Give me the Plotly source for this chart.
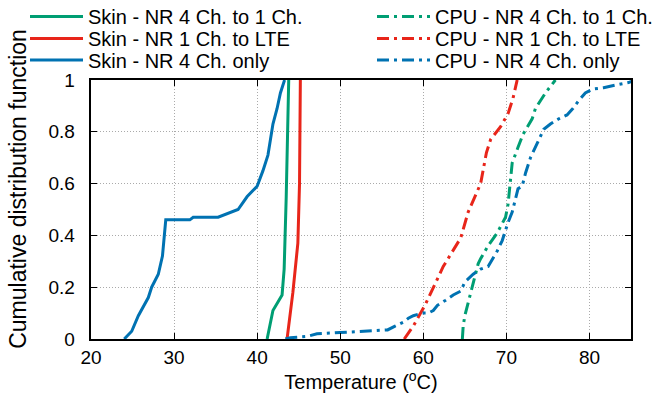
import plotly.graph_objects as go

# ---- data (temperature in deg C, CDF) ----
skin_4to1_T = [41.2, 41.9, 43.0, 43.25, 43.5, 43.6, 43.8]
skin_4to1_y = [0, 0.11, 0.17, 0.27, 0.55, 0.76, 1.0]

skin_1lte_T = [43.6, 44.3, 44.9, 45.1, 45.2]
skin_1lte_y = [0, 0.18, 0.37, 0.6, 1.0]

skin_4_T = [24.0, 24.9, 25.7, 26.9, 27.3, 28.1, 28.6, 28.9, 29.0, 31.9, 32.3, 35.3, 37.0,
            37.7, 38.8, 40.0, 40.7, 41.3, 41.9, 42.4, 42.8, 43.3]
skin_4_y = [0, 0.03, 0.09, 0.16, 0.20, 0.25, 0.32, 0.41, 0.46, 0.46, 0.47, 0.47, 0.49,
            0.50, 0.55, 0.59, 0.65, 0.71, 0.83, 0.89, 0.95, 1.0]

cpu_4to1_T = [64.7, 64.8, 65.0, 65.9, 66.6, 66.9, 67.8, 68.9, 69.9, 70.2, 70.4, 70.5, 70.7,
              71.4, 72.0, 73.1, 73.5, 74.7, 75.9]
cpu_4to1_y = [0, 0.05, 0.09, 0.20, 0.29, 0.31, 0.36, 0.41, 0.47, 0.52, 0.59, 0.63, 0.68,
              0.74, 0.79, 0.85, 0.89, 0.95, 1.0]

cpu_1lte_T = [57.7, 58.8, 60.2, 61.2, 62.4, 64.5, 65.4, 66.9, 67.6, 68.1, 69.3, 70.2, 70.8, 71.3]
cpu_1lte_y = [0, 0.05, 0.13, 0.20, 0.28, 0.39, 0.49, 0.60, 0.72, 0.77, 0.82, 0.87, 0.93, 1.0]

cpu_4_T = [43.4, 44.0, 46.0, 47.2, 50.0, 53.3, 55.7, 56.6, 57.6, 58.2, 58.8, 59.9, 60.6, 61.2,
           61.7, 62.7, 63.6, 64.5, 65.0, 66.0, 66.9, 67.8, 68.9, 69.5, 70.0, 70.2, 70.7, 71.1,
           71.4, 71.9, 72.3, 72.9, 73.5, 73.9, 74.5, 75.3, 76.3, 77.3, 78.0, 78.7, 79.5, 80.4,
           81.7, 83.1, 84.7, 85.5]
cpu_4_y = [0, 0.005, 0.01, 0.02, 0.025, 0.03, 0.035, 0.05, 0.065, 0.08, 0.09, 0.10, 0.10, 0.11,
           0.13, 0.15, 0.17, 0.185, 0.22, 0.25, 0.27, 0.28, 0.34, 0.38, 0.43, 0.45, 0.49, 0.54,
           0.58, 0.59, 0.64, 0.70, 0.74, 0.77, 0.81, 0.83, 0.85, 0.865, 0.89, 0.92, 0.95, 0.965,
           0.97, 0.98, 0.99, 1.0]

x_ticks = [20, 30, 40, 50, 60, 70, 80]
y_ticks = [0, 0.2, 0.4, 0.6, 0.8, 1]
y_title = "Cumulative distribution function"
x_title = "Temperature (<sup>o</sup>C)"

GREEN = "#009E73"
RED = "#E8251A"
BLUE = "#0072B2"
DASHDOT = "12px,5px,3px,5px"

# name, x, y, colour, dash, column, row
series = [
    ("Skin - NR 4 Ch. to 1 Ch.", skin_4to1_T, skin_4to1_y, GREEN, "solid", 0, 0),
    ("Skin - NR 1 Ch. to LTE", skin_1lte_T, skin_1lte_y, RED, "solid", 0, 1),
    ("Skin - NR 4 Ch. only", skin_4_T, skin_4_y, BLUE, "solid", 0, 2),
    ("CPU - NR 4 Ch. to 1 Ch.", cpu_4to1_T, cpu_4to1_y, GREEN, DASHDOT, 1, 0),
    ("CPU - NR 1 Ch. to LTE", cpu_1lte_T, cpu_1lte_y, RED, DASHDOT, 1, 1),
    ("CPU - NR 4 Ch. only", cpu_4_T, cpu_4_y, BLUE, DASHDOT, 1, 2),
]

W, H = 657, 401
col_x = [25, 372]          # px left edge of legend boxes
row_y = [16.5, 38.5, 60]   # px centre of legend rows

fig = go.Figure()
legends = {}
for i, (name, xs, ys, col, dash, c, r) in enumerate(series):
    lid = "legend" if i == 0 else f"legend{i + 1}"
    fig.add_trace(go.Scatter(x=xs, y=ys, mode="lines", name=name, legend=lid,
                             line=dict(color=col, width=3, dash=dash)))
    legends[lid] = dict(xref="container", yref="container",
                        x=col_x[c] / W, y=1 - row_y[r] / H,
                        xanchor="left", yanchor="middle",
                        font=dict(size=20), bgcolor="rgba(0,0,0,0)",
                        itemwidth=53)

FONT = "Liberation Sans, Arial, sans-serif"
axis_common = dict(
    showline=True, linecolor="black", linewidth=1.5, mirror="allticks",
    ticks="inside", ticklen=6, tickcolor="black", tickwidth=1,
    showgrid=True, gridcolor="#aaaaaa", gridwidth=1, griddash="1px,2px",
    zeroline=False, tickfont=dict(size=19, color="black"),
)

fig.update_layout(
    width=W, height=H,
    margin=dict(l=91, r=26, t=80, b=62, autoexpand=False),
    paper_bgcolor="white", plot_bgcolor="white",
    font=dict(family=FONT, size=20, color="black"),
    xaxis=dict(range=[20, 85], tickvals=x_ticks,
               title=dict(text=x_title, font=dict(size=20), standoff=6),
               **axis_common),
    yaxis=dict(range=[0, 1], tickvals=y_ticks,
               ticktext=[f"{v}\u00a0\u00a0" for v in y_ticks],
               **axis_common),
    annotations=[dict(text=y_title, textangle=-90, showarrow=False,
                      xref="paper", yref="paper", x=0, y=0.58,
                      xanchor="center", yanchor="middle", xshift=-73,
                      font=dict(size=23, color="black"))],
    showlegend=True,
    **legends,
)

fig.write_html("out.html")
